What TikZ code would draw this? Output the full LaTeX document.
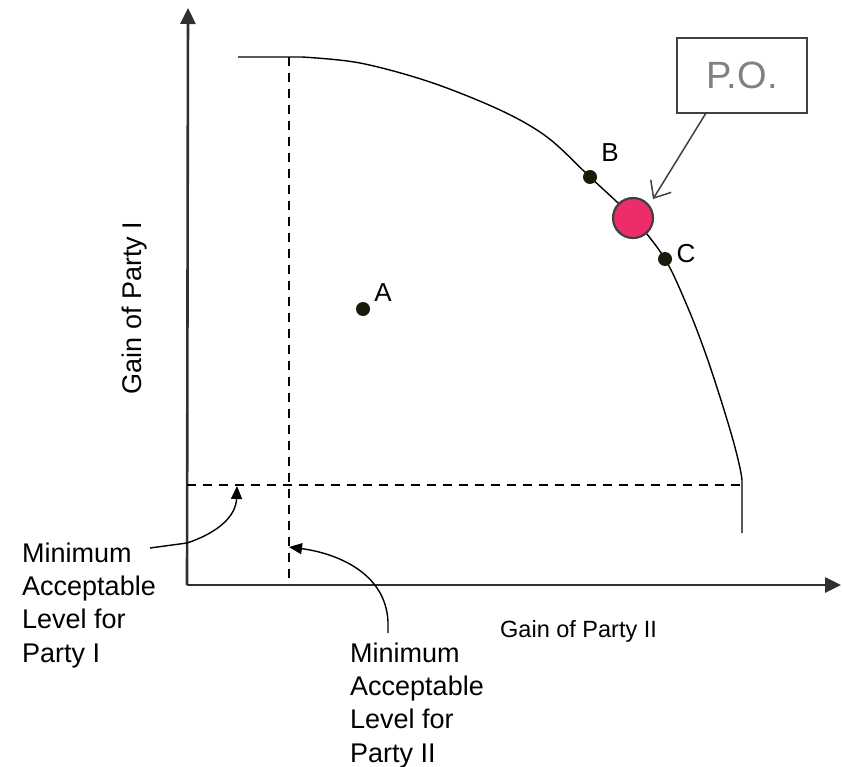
\documentclass[tikz,border=0pt]{standalone}
\usepackage{fontspec}
\setmainfont{Liberation Sans}
\usetikzlibrary{arrows.meta}
\definecolor{axisgray}{HTML}{303030}
\definecolor{pofill}{HTML}{EC2D69}
\definecolor{poedge}{HTML}{404040}
\definecolor{dotcol}{HTML}{1A1A0A}
\begin{document}
\begin{tikzpicture}[x=1pt,y=-1pt,
  axisline/.style={line width=2.6pt, draw=axisgray, -{Triangle[length=16pt,width=15pt]}},
  frontier/.style={line width=1.4pt, draw=black},
  dashline/.style={line width=1.7pt, draw=black, dash pattern=on 9pt off 7pt},
  ptdot/.style={circle, fill=dotcol, minimum size=14pt, inner sep=0pt},
  ptlabel/.style={font=\fontsize{26}{30}\selectfont, inner sep=0pt},
  minlabel/.style={font=\fontsize{27}{33.3}\selectfont, align=left, inner sep=0pt, anchor=north west},
  pointer/.style={line width=1.4pt, draw=black, -{Triangle[length=13pt,width=11pt]}},
  pobox/.style={draw=poedge, line width=1.6pt, minimum width=130pt, minimum height=75pt, inner sep=0pt, font=\fontsize{38}{40}\selectfont, text=gray},
  pocircle/.style={circle, fill=pofill, draw=poedge, line width=2.2pt, minimum size=40pt, inner sep=0pt}
]
\useasboundingbox (0,0) rectangle (842,767);

% axes
\coordinate (O) at (187,585);
\coordinate (ytop) at (188,8);
\coordinate (xend) at (841,585);
\draw[axisline] (O) -- (ytop);
\draw[axisline] (O) -- (xend);

% dashed minimum levels
\coordinate (h1) at (187,485);
\coordinate (h2) at (742,485);
\coordinate (v1) at (289,57);
\coordinate (v2) at (289,585);
\draw[dashline] (h1) -- (h2);
\draw[dashline] (v1) -- (v2);

% frontier
\coordinate (fstart) at (238,57);
\coordinate (fend) at (742,533);
\draw[frontier] (fstart) -- (302,57) -- plot[smooth, tension=0.55] coordinates {(302,57) (360,63) (430,82) (500,110) (547,137) (590,177) (633,218) (665,259) (688,308) (705,352) (720,397) (733,440) (740,468) (742,480)} -- (fend);

% points
\node[ptdot] (dA) at (363,309) {};
\node[ptlabel] (lA) at (383,293) {A};
\node[ptdot] (dB) at (590,177) {};
\node[ptlabel] (lB) at (610,153) {B};
\node[ptdot] (dC) at (665,259) {};
\node[ptlabel] (lC) at (686,254) {C};

% P.O.
\node[pocircle] (po) at (633,218) {};
\node[pobox] (pob) at (742,75.5) {P.O.};
\coordinate (poS) at (706,113);
\coordinate (poT) at (653,199);
\draw[line width=1.5pt, draw=poedge, -{Straight Barb[length=14pt,width=24pt]}] (poS) -- (poT);

% axis titles
\node[font=\fontsize{23.5}{26}\selectfont, anchor=base west, inner sep=0pt] (gx) at (500,637) {Gain of Party II};
\node[font=\fontsize{27}{30}\selectfont, rotate=90, inner sep=0pt] (gy) at (135,308) {Gain of Party I};

% minimum acceptable level labels
\node[minlabel] (m1) at (22,542.5) {Minimum\\Acceptable\\Level for\\Party I};
\node[minlabel] (m2) at (350,642.5) {Minimum\\Acceptable\\Level for\\Party II};

\coordinate (a1s) at (150,548);
\coordinate (a1e) at (237,486);
\draw[pointer] (a1s) -- (187,543) .. controls (220,532) and (236,515) .. (a1e);
\coordinate (a2s) at (388,633);
\coordinate (a2e) at (289,547);
\draw[pointer] (a2s) -- (388,622) .. controls (386,572) and (335,553) .. (a2e);
\end{tikzpicture}
\end{document}
